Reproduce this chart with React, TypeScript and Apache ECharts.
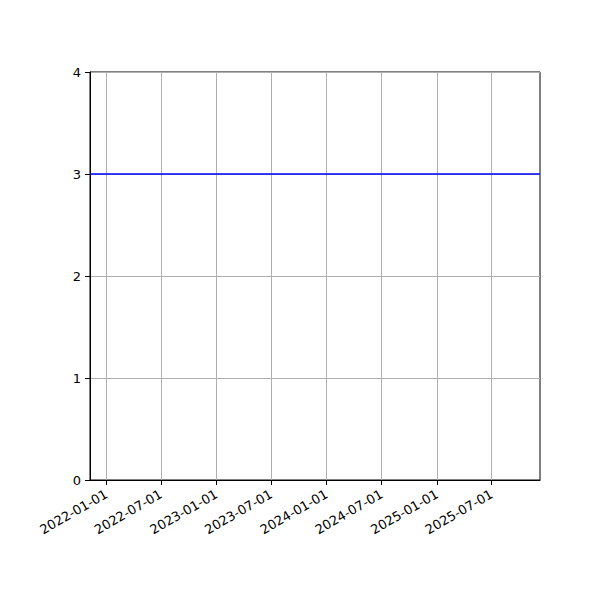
import * as React from "react";
import * as echarts from "echarts";

// x axis range and 6-month ticks
const X_MIN = "2021-11-08";
const X_MAX = "2025-12-08";
const X_TICKS = [
  "2022-01-01", "2022-07-01", "2023-01-01", "2023-07-01",
  "2024-01-01", "2024-07-01", "2025-01-01", "2025-07-01",
];
const Y_TICKS = [0, 1, 2, 3, 4];

// the single series: a flat line at 3 over the whole range
const LINE_DATES = ["2021-11-08", "2025-12-08"];
const LINE_VALUES = [3, 3];

const ts = (d: string) => Date.parse(d + "T00:00:00Z");
const fmt = (v: number) => new Date(v).toISOString().slice(0, 10);

export default function App() {
  const ref = React.useRef<HTMLDivElement | null>(null);

  React.useEffect(() => {
    document.body.style.margin = "0";
    if (!ref.current) return;
    const chart = echarts.init(ref.current, undefined, { renderer: "svg" });
    const tickTs = X_TICKS.map(ts);

    chart.setOption({
      animation: false,
      backgroundColor: "#fff",
      textStyle: { fontFamily: "DejaVu Sans, sans-serif" },
      grid: {
        left: 90, top: 72, width: 450, height: 408,
        show: true, borderColor: "#000", borderWidth: 1, backgroundColor: "transparent",
      },
      xAxis: {
        type: "value",
        min: ts(X_MIN), max: ts(X_MAX),
        axisLine: { lineStyle: { color: "#000", width: 1 } },
        axisTick: { show: true, length: 5, lineStyle: { color: "#000" }, customValues: tickTs },
        axisLabel: {
          customValues: tickTs,
          formatter: (v: number) => fmt(v),
          rotate: 30, color: "#000", fontSize: 13, margin: 13,
        },
        splitLine: { show: false },
      },
      yAxis: {
        type: "value",
        min: Y_TICKS[0], max: Y_TICKS[Y_TICKS.length - 1], interval: 1,
        axisLine: { show: true, lineStyle: { color: "#000", width: 1 } },
        axisTick: { show: true, length: 5, lineStyle: { color: "#000" } },
        axisLabel: { color: "#000", fontSize: 13, margin: 9 },
        splitLine: { show: true, lineStyle: { color: "#b0b0b0", width: 1 } },
      },
      series: [
        {
          type: "line",
          data: LINE_DATES.map((d, i) => [ts(d), LINE_VALUES[i]]),
          showSymbol: false,
          lineStyle: { color: "#0000ff", width: 1.6 },
          z: 3,
          markLine: {
            silent: true,
            symbol: "none",
            label: { show: false },
            lineStyle: { color: "#b0b0b0", width: 1, type: "solid" },
            data: tickTs.map((t) => ({ xAxis: t })),
            z: 1,
          },
        },
      ],
    });

    return () => chart.dispose();
  }, []);

  return <div ref={ref} style={{ width: 600, height: 600 }} />;
}
